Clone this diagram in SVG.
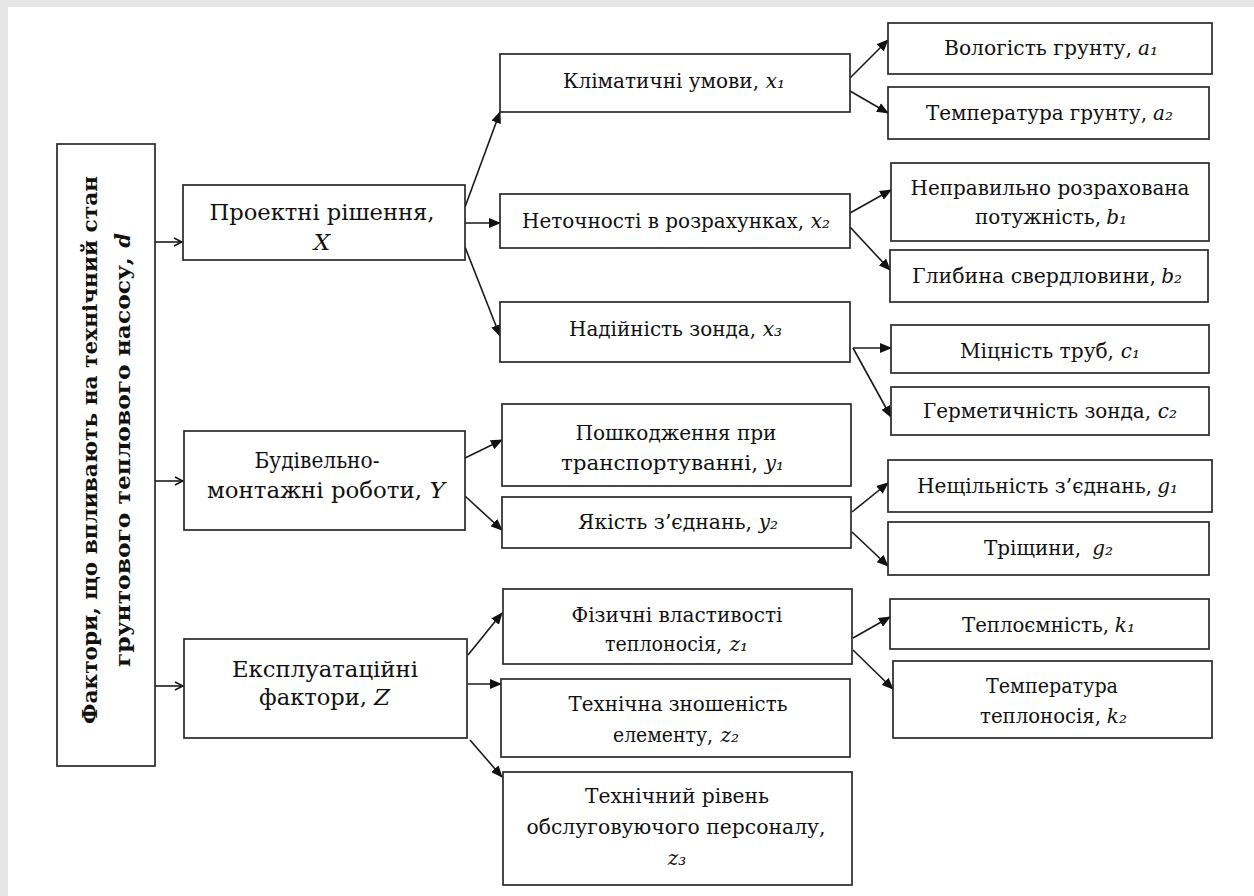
<svg xmlns="http://www.w3.org/2000/svg" width="1254" height="896" viewBox="0 0 1254 896">
<style>
.bx{fill:#fff;stroke:#2a2a2a;stroke-width:1.7}
.t{font-family:"DejaVu Serif","Liberation Serif",serif;font-size:20px;fill:#111;text-anchor:middle}
.tb{font-family:"DejaVu Serif","Liberation Serif",serif;font-size:23px;fill:#111;text-anchor:middle}
.lt{font-family:"DejaVu Serif","Liberation Serif",serif;font-size:21px;font-weight:bold;fill:#111;text-anchor:middle}
.i{font-style:italic}
.l{text-anchor:start}
.r{text-anchor:end}
.c{stroke:#1a1a1a;stroke-width:1.6;fill:none}
</style>
<defs>
<marker id="ah" viewBox="0 0 12 10" refX="11" refY="5" markerWidth="12" markerHeight="10" markerUnits="userSpaceOnUse" orient="auto">
<path d="M0,0 L12,5 L0,10 Z" fill="#111"/>
</marker>
<marker id="oa" viewBox="0 0 10 10" refX="9" refY="5" markerWidth="10" markerHeight="10" markerUnits="userSpaceOnUse" orient="auto">
<path d="M1,1 L9,5 L1,9" fill="none" stroke="#111" stroke-width="1.4"/>
</marker>
</defs>
<rect x="0" y="0" width="1254" height="896" fill="#e6e6e6"/>
<rect x="8" y="7" width="1246" height="889" fill="#fff"/>

<g id="connectors">
<line class="c" x1="155" y1="242" x2="182" y2="242" marker-end="url(#oa)"/>
<line class="c" x1="155" y1="481" x2="183" y2="481" marker-end="url(#oa)"/>
<line class="c" x1="155" y1="686" x2="183" y2="686" marker-end="url(#oa)"/>
<line class="c" x1="465" y1="207" x2="500" y2="112" marker-end="url(#ah)"/>
<line class="c" x1="465" y1="223" x2="500" y2="223" marker-end="url(#ah)"/>
<line class="c" x1="465" y1="247" x2="500" y2="336" marker-end="url(#ah)"/>
<line class="c" x1="465" y1="458" x2="502" y2="440" marker-end="url(#ah)"/>
<line class="c" x1="465" y1="496" x2="502" y2="530" marker-end="url(#ah)"/>
<line class="c" x1="468" y1="655" x2="502" y2="613" marker-end="url(#ah)"/>
<line class="c" x1="468" y1="684" x2="501" y2="684" marker-end="url(#ah)"/>
<line class="c" x1="470" y1="740" x2="502" y2="777" marker-end="url(#ah)"/>
<line class="c" x1="850" y1="78" x2="888" y2="40" marker-end="url(#ah)"/>
<line class="c" x1="850" y1="91" x2="888" y2="113" marker-end="url(#ah)"/>
<line class="c" x1="850" y1="213" x2="891" y2="190" marker-end="url(#ah)"/>
<line class="c" x1="850" y1="227" x2="890" y2="270" marker-end="url(#ah)"/>
<line class="c" x1="853" y1="348" x2="891" y2="348" marker-end="url(#ah)"/>
<line class="c" x1="853" y1="348" x2="891" y2="417" marker-end="url(#ah)"/>
<line class="c" x1="852" y1="512" x2="888" y2="483" marker-end="url(#ah)"/>
<line class="c" x1="852" y1="532" x2="888" y2="566" marker-end="url(#ah)"/>
<line class="c" x1="853" y1="638" x2="890" y2="617" marker-end="url(#ah)"/>
<line class="c" x1="853" y1="650" x2="893" y2="689" marker-end="url(#ah)"/>
</g>

<g id="root">
<rect class="bx" x="57" y="144" width="98" height="622"/>
<text class="lt" transform="translate(97,450) rotate(-90)" textLength="548" lengthAdjust="spacingAndGlyphs">Фактори, що впливають на технічний стан</text>
<text class="lt l" transform="translate(130,667) rotate(-90)" textLength="410" lengthAdjust="spacingAndGlyphs">грунтового теплового насосу,</text>
<text class="lt r i" transform="translate(130,233) rotate(-90)">d</text>
</g>

<g id="nX">
<rect class="bx" x="183" y="185" width="282" height="75"/>
<text class="tb" x="322" y="220" textLength="225" lengthAdjust="spacingAndGlyphs">Проектні рішення,</text>
<text class="tb i" x="322" y="250">X</text>
</g>
<g id="nY">
<rect class="bx" x="184" y="431" width="281" height="99"/>
<text class="tb" x="317" y="468" textLength="125" lengthAdjust="spacingAndGlyphs">Будівельно-</text>
<text class="tb l" x="207" y="498" textLength="215" lengthAdjust="spacingAndGlyphs">монтажні роботи,</text>
<text class="tb r i" x="445" y="498">Y</text>
</g>
<g id="nZ">
<rect class="bx" x="184" y="639" width="283" height="99"/>
<text class="tb" x="325" y="677" textLength="186" lengthAdjust="spacingAndGlyphs">Експлуатаційні</text>
<text class="tb l" x="259" y="705" textLength="108" lengthAdjust="spacingAndGlyphs">фактори,</text>
<text class="tb r i" x="390" y="705">Z</text>
</g>

<g id="x1">
<rect class="bx" x="500" y="54" width="350" height="58"/>
<text class="t l" x="563" y="88" textLength="196" lengthAdjust="spacingAndGlyphs">Кліматичні умови,</text>
<text class="t r i" x="785" y="88">x₁</text>
</g>
<g id="x2">
<rect class="bx" x="500" y="194" width="350" height="54"/>
<text class="t l" x="522" y="228" textLength="282" lengthAdjust="spacingAndGlyphs">Неточності в розрахунках,</text>
<text class="t r i" x="830" y="228">x₂</text>
</g>
<g id="x3">
<rect class="bx" x="500" y="302" width="350" height="60"/>
<text class="t l" x="569" y="336" textLength="187" lengthAdjust="spacingAndGlyphs">Надійність зонда,</text>
<text class="t r i" x="782" y="336">x₃</text>
</g>
<g id="y1">
<rect class="bx" x="502" y="404" width="349" height="82"/>
<text class="t" x="676" y="440" textLength="201" lengthAdjust="spacingAndGlyphs">Пошкодження при</text>
<text class="t l" x="561" y="470" textLength="197" lengthAdjust="spacingAndGlyphs">транспортуванні,</text>
<text class="t r i" x="784" y="470">y₁</text>
</g>
<g id="y2">
<rect class="bx" x="502" y="497" width="349" height="51"/>
<text class="t l" x="578" y="529" textLength="174" lengthAdjust="spacingAndGlyphs">Якість з’єднань,</text>
<text class="t r i" x="778" y="529">y₂</text>
</g>
<g id="z1">
<rect class="bx" x="503" y="589" width="349" height="75"/>
<text class="t" x="677" y="622" textLength="211" lengthAdjust="spacingAndGlyphs">Фізичні властивості</text>
<text class="t l" x="605" y="651" textLength="117" lengthAdjust="spacingAndGlyphs">теплоносія,</text>
<text class="t r i" x="748" y="651">z₁</text>
</g>
<g id="z2">
<rect class="bx" x="501" y="679" width="349" height="78"/>
<text class="t" x="678" y="711" textLength="219" lengthAdjust="spacingAndGlyphs">Технічна зношеність</text>
<text class="t l" x="613" y="742" textLength="100" lengthAdjust="spacingAndGlyphs">елементу,</text>
<text class="t r i" x="739" y="742">z₂</text>
</g>
<g id="z3">
<rect class="bx" x="503" y="772" width="349" height="113"/>
<text class="t" x="677" y="803" textLength="184" lengthAdjust="spacingAndGlyphs">Технічний рівень</text>
<text class="t" x="676" y="834" textLength="299" lengthAdjust="spacingAndGlyphs">обслуговуючого персоналу,</text>
<text class="t i" x="677" y="865">z₃</text>
</g>

<g id="a1">
<rect class="bx" x="888" y="23" width="324" height="51"/>
<text class="t l" x="944" y="55" textLength="188" lengthAdjust="spacingAndGlyphs">Вологість грунту,</text>
<text class="t r i" x="1158" y="55">a₁</text>
</g>
<g id="a2">
<rect class="bx" x="888" y="87" width="321" height="52"/>
<text class="t l" x="926" y="120" textLength="221" lengthAdjust="spacingAndGlyphs">Температура грунту,</text>
<text class="t r i" x="1173" y="120">a₂</text>
</g>
<g id="b1">
<rect class="bx" x="891" y="163" width="318" height="78"/>
<text class="t" x="1050" y="195" textLength="279" lengthAdjust="spacingAndGlyphs">Неправильно розрахована</text>
<text class="t l" x="975" y="224" textLength="126" lengthAdjust="spacingAndGlyphs">потужність,</text>
<text class="t r i" x="1127" y="224">b₁</text>
</g>
<g id="b2">
<rect class="bx" x="890" y="250" width="318" height="52"/>
<text class="t l" x="912" y="283" textLength="244" lengthAdjust="spacingAndGlyphs">Глибина свердловини,</text>
<text class="t r i" x="1182" y="283">b₂</text>
</g>
<g id="c1">
<rect class="bx" x="891" y="325" width="318" height="48"/>
<text class="t l" x="960" y="358" textLength="154" lengthAdjust="spacingAndGlyphs">Міцність труб,</text>
<text class="t r i" x="1140" y="358">c₁</text>
</g>
<g id="c2">
<rect class="bx" x="891" y="387" width="318" height="48"/>
<text class="t l" x="923" y="418" textLength="228" lengthAdjust="spacingAndGlyphs">Герметичність зонда,</text>
<text class="t r i" x="1177" y="418">c₂</text>
</g>
<g id="g1">
<rect class="bx" x="888" y="460" width="324" height="52"/>
<text class="t l" x="917" y="493" textLength="235" lengthAdjust="spacingAndGlyphs">Нещільність з’єднань,</text>
<text class="t r i" x="1178" y="493">g₁</text>
</g>
<g id="g2">
<rect class="bx" x="888" y="522" width="321" height="53"/>
<text class="t l" x="984" y="555" textLength="97" lengthAdjust="spacingAndGlyphs">Тріщини,</text>
<text class="t r i" x="1113" y="555">g₂</text>
</g>
<g id="k1">
<rect class="bx" x="890" y="599" width="319" height="50"/>
<text class="t l" x="962" y="632" textLength="147" lengthAdjust="spacingAndGlyphs">Теплоємність,</text>
<text class="t r i" x="1135" y="632">k₁</text>
</g>
<g id="k2">
<rect class="bx" x="893" y="661" width="319" height="77"/>
<text class="t" x="1052" y="693" textLength="132" lengthAdjust="spacingAndGlyphs">Температура</text>
<text class="t l" x="980" y="723" textLength="121" lengthAdjust="spacingAndGlyphs">теплоносія,</text>
<text class="t r i" x="1127" y="723">k₂</text>
</g>
</svg>
